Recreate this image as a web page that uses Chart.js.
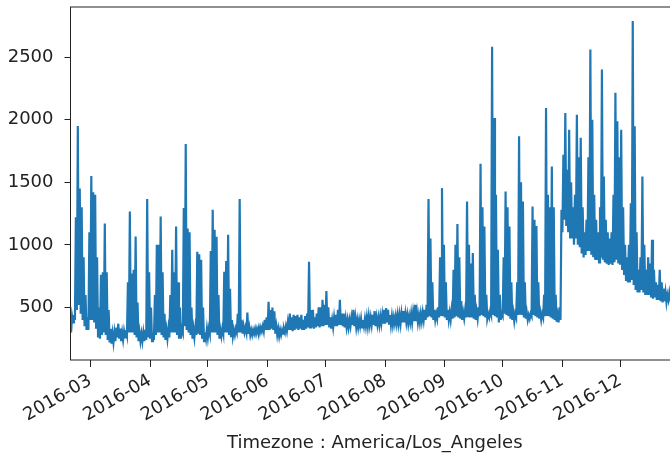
<!DOCTYPE html>
<html>
<head>
<meta charset="utf-8">
<script src="https://cdn.jsdelivr.net/npm/chart.js"></script>
<style>
  html, body { margin: 0; padding: 0; background: #fff; overflow: hidden; }
  #wrap { width: 680px; height: 456px; }
</style>
</head>
<body>
<div id="wrap"><canvas id="chart" width="680" height="456"></canvas></div>
<script>
// Daily low / high readings taken off the plot, one pair per day

// Feb 20 - Feb 29
const lowFeb  = [300, 380, 400, 480, 520, 450, 400, 350, 320, 320];
const highFeb = [430, 440, 1220, 1950, 1450, 1300, 900, 600, 420, 1100];

const lowMar  = [400, 400, 380, 330, 260, 250, 280, 300, 280, 240, 220, 210, 220, 230, 260, 250,
                 230, 240, 260, 280, 300, 300, 300, 280, 260, 230, 230, 230, 230, 240, 260];
const highMar = [1550, 1420, 1400, 900, 500, 760, 780, 1170, 780, 480, 330, 290, 300, 340, 370, 330,
                 300, 310, 320, 700, 1266, 770, 800, 1066, 540, 300, 290, 300, 320, 1367, 780];

const lowApr  = [250, 230, 240, 280, 300, 300, 280, 260, 240, 250, 260, 300, 300, 300, 280,
                 250, 250, 300, 350, 320, 300, 280, 250, 260, 280, 290, 280, 250, 230, 250];
const highApr = [500, 300, 600, 1000, 1000, 1226, 780, 450, 320, 330, 600, 960, 780, 1146, 700,
                 500, 330, 1295, 1806, 1130, 1100, 500, 330, 340, 945, 925, 880, 500, 300, 330];

const lowMay  = [260, 290, 300, 300, 300, 280, 250, 270, 290, 300, 300, 280, 270, 270, 280, 300,
                 300, 300, 290, 300, 300, 290, 280, 280, 290, 290, 300, 300, 310, 310, 320];
const highMay = [330, 950, 1280, 1120, 1065, 600, 320, 330, 785, 870, 1080, 650, 400, 320, 330, 450,
                 1367, 400, 350, 340, 460, 340, 320, 320, 330, 330, 340, 340, 350, 400, 420];

const lowJun  = [320, 320, 330, 320, 290, 280, 270, 280, 290, 300, 310, 320, 320, 310, 320,
                 330, 320, 330, 320, 320, 330, 340, 340, 340, 330, 340, 350, 340, 350, 350];
const highJun = [545, 480, 500, 470, 350, 330, 320, 320, 330, 350, 380, 450, 420, 440, 430,
                 440, 420, 440, 400, 430, 450, 865, 480, 480, 420, 450, 500, 500, 560, 520];

const lowJul  = [360, 360, 340, 330, 340, 350, 350, 360, 360, 350, 340, 340, 340, 350, 360, 350,
                 340, 340, 350, 340, 350, 350, 350, 360, 360, 360, 350, 360, 360, 370, 370];
const highJul = [630, 500, 420, 400, 420, 440, 480, 560, 450, 450, 410, 400, 400, 420, 480, 420,
                 400, 400, 410, 400, 410, 420, 430, 420, 440, 470, 420, 420, 430, 440, 480];

const lowAug  = [370, 380, 370, 360, 360, 370, 370, 370, 370, 380, 380, 380, 370, 380, 380, 390,
                 390, 380, 380, 390, 400, 400, 420, 430, 420, 400, 400, 410, 420, 440, 430];
const highAug = [495, 480, 440, 430, 420, 430, 440, 440, 450, 470, 450, 440, 430, 450, 460, 520,
                 460, 440, 450, 460, 480, 520, 1367, 1050, 700, 480, 450, 500, 900, 1453, 1000];

const lowSep  = [420, 400, 400, 400, 410, 420, 430, 420, 410, 400, 410, 420, 430, 420, 420,
                 410, 400, 410, 430, 440, 430, 420, 410, 420, 440, 440, 430, 420, 380, 400];
const highSep = [700, 480, 460, 480, 800, 1000, 1167, 900, 550, 460, 480, 1346, 1000, 850, 935,
                 600, 470, 500, 1648, 1300, 1146, 600, 450, 470, 2583, 2014, 1400, 960, 600, 450];

const lowOct  = [430, 450, 440, 430, 410, 400, 390, 420, 440, 450, 440, 420, 410, 400, 410, 430,
                 440, 430, 420, 410, 400, 420, 430, 440, 430, 420, 410, 400, 385, 380, 400];
const highOct = [900, 1426, 1300, 1146, 700, 460, 450, 700, 1867, 1500, 1346, 700, 460, 440, 450, 1306,
                 1200, 1150, 700, 460, 450, 600, 2094, 1400, 1300, 1626, 1300, 600, 440, 500, 1280];

const lowNov  = [1100, 1200, 1150, 1100, 1050, 1050, 1000, 1050, 1000, 980, 930, 900, 920, 950, 950,
                 920, 900, 880, 880, 860, 900, 880, 860, 850, 840, 850, 840, 860, 880, 850];
const highNov = [1720, 2054, 1600, 1920, 1500, 1300, 1400, 2040, 1700, 1855, 1300, 1100, 1200, 1700, 2561,
                 2000, 1400, 1200, 1100, 1300, 2400, 1546, 1200, 1100, 1050, 1100, 1400, 2214, 1987, 1700];

// Dec 1 - Dec 27 (rest of the month is cut off in the picture)
const lowDec  = [840, 800, 760, 720, 700, 700, 720, 680, 640, 620, 620, 640, 620, 600,
                 600, 600, 580, 570, 580, 560, 560, 550, 540, 550, 540, 560, 570];
const highDec = [1920, 1300, 1000, 900, 1000, 1333, 2788, 1947, 1100, 800, 900, 1546, 1000, 800,
                 900, 850, 1040, 800, 700, 680, 800, 700, 650, 620, 600, 620, 640];

const tickLabels = ['2016-03', '2016-04', '2016-05', '2016-06', '2016-07',
                    '2016-08', '2016-09', '2016-10', '2016-11', '2016-12'];
const yTicks = [500, 1000, 1500, 2000, 2500];

const LINE_BLUE = '#1f77b4';
const INK = '#222';
const FONT = { family: 'DejaVu Sans', size: 18 };

// days counted from 2016-03-01
function dayOf(y, m, d) {
  return (Date.UTC(y, m - 1, d) - Date.UTC(2016, 2, 1)) / 86400000;
}

const monthRuns = [
  [dayOf(2016, 2, 20), lowFeb, highFeb],
  [dayOf(2016, 3, 1), lowMar, highMar],
  [dayOf(2016, 4, 1), lowApr, highApr],
  [dayOf(2016, 5, 1), lowMay, highMay],
  [dayOf(2016, 6, 1), lowJun, highJun],
  [dayOf(2016, 7, 1), lowJul, highJul],
  [dayOf(2016, 8, 1), lowAug, highAug],
  [dayOf(2016, 9, 1), lowSep, highSep],
  [dayOf(2016, 10, 1), lowOct, highOct],
  [dayOf(2016, 11, 1), lowNov, highNov],
  [dayOf(2016, 12, 1), lowDec, highDec]
];

const points = [];
monthRuns.forEach(([start, lows, highs]) => {
  lows.forEach((lo, i) => {
    points.push({ x: start + i, y: lo });
    points.push({ x: start + i + 0.5, y: highs[i] });
  });
});

const monthStarts = tickLabels.map(l => {
  const [y, m] = l.split('-');
  return dayOf(+y, +m, 1);
});

// matplotlib-style box round the plot area
const framePlugin = {
  id: 'frame',
  afterDraw(chart) {
    const { ctx, chartArea: a } = chart;
    ctx.save();
    ctx.strokeStyle = INK;
    ctx.lineWidth = 1;
    ctx.strokeRect(a.left, a.top, a.right - a.left, a.bottom - a.top);
    ctx.restore();
  }
};

new Chart(document.getElementById('chart').getContext('2d'), {
  type: 'line',
  data: {
    datasets: [{
      data: points,
      borderColor: LINE_BLUE,
      borderWidth: 2.2,
      pointRadius: 0,
      tension: 0,
      fill: false
    }]
  },
  options: {
    responsive: false,
    animation: false,
    layout: { padding: { top: 7, right: 1, left: 0, bottom: 0 } },
    plugins: {
      legend: { display: false },
      tooltip: { enabled: false }
    },
    scales: {
      x: {
        type: 'linear',
        min: -10.3,
        max: 305.5,
        afterBuildTicks: s => { s.ticks = monthStarts.map(v => ({ value: v })); },
        afterFit: s => {
          s.height = 96;
          s.paddingLeft = 0;
          s.paddingRight = 0;
        },
        border: { display: false },
        grid: { drawOnChartArea: false, drawTicks: true, tickLength: 7, color: INK, tickColor: INK },
        ticks: {
          autoSkip: false,
          minRotation: 30,
          maxRotation: 30,
          padding: 3,
          color: INK,
          font: FONT,
          callback: (v, i) => tickLabels[i]
        },
        title: {
          display: true,
          text: 'Timezone : America/Los_Angeles',
          color: INK,
          font: FONT,
          padding: { top: 0, bottom: 2 }
        }
      },
      y: {
        min: 80,
        max: 2900,
        afterBuildTicks: s => { s.ticks = yTicks.map(v => ({ value: v })); },
        afterFit: s => {
          s.width = 70.5;
          s.paddingTop = 0;
          s.paddingBottom = 0;
        },
        border: { display: false },
        grid: { drawOnChartArea: false, drawTicks: true, tickLength: 6, color: INK, tickColor: INK },
        ticks: {
          padding: 11,
          color: INK,
          font: FONT,
          callback: v => String(v)
        }
      }
    }
  },
  plugins: [framePlugin]
});
</script>
</body>
</html>
